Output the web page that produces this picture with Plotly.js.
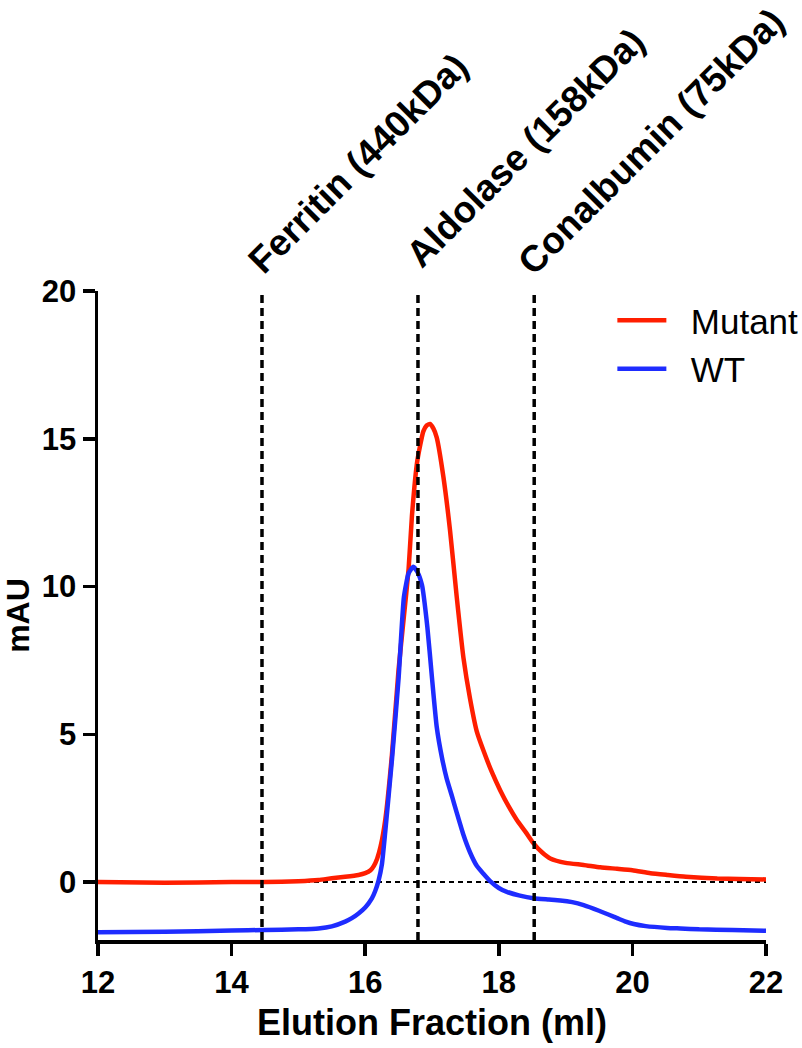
<!DOCTYPE html>
<html>
<head>
<meta charset="utf-8">
<script src="https://cdn.plot.ly/plotly-3.0.1.min.js"></script>
<style>html,body{margin:0;padding:0;background:#fff;}#chart{width:802px;height:1048px;}</style>
</head>
<body>
<div id="chart"></div>
<script>
// Mutant (red) trace
const mutantX = [12, 13, 14, 14.5, 15, 15.3, 15.5, 15.7, 15.9, 16.0, 16.08, 16.13, 16.18, 16.23, 16.3, 16.4, 16.5, 16.58, 16.65, 16.7, 16.78, 16.87, 16.92, 16.97, 17.02, 17.07, 17.17, 17.27, 17.37, 17.47, 17.57, 17.67, 17.77, 17.9, 18.02, 18.15, 18.27, 18.4, 18.52, 18.65, 18.77, 19.0, 19.27, 19.52, 19.77, 20.0, 20.27, 20.52, 20.8, 21.27, 21.6, 22.0];
const mutantY = [0.0, -0.02, 0.0, 0.0, 0.03, 0.07, 0.13, 0.18, 0.24, 0.30, 0.40, 0.55, 0.80, 1.2, 2.1, 4.3, 7.2, 9.0, 10.6, 12.4, 14.25, 15.25, 15.45, 15.5, 15.35, 15.05, 13.72, 11.9, 9.65, 7.6, 6.2, 5.1, 4.45, 3.7, 3.11, 2.55, 2.1, 1.7, 1.31, 1.0, 0.8, 0.65, 0.58, 0.5, 0.45, 0.4, 0.3, 0.24, 0.18, 0.12, 0.1, 0.09];
// WT (blue) trace
const wtX = [12, 13, 14, 14.5, 15, 15.3, 15.5, 15.7, 15.8, 15.9, 16.0, 16.1, 16.15, 16.2, 16.25, 16.3, 16.4, 16.5, 16.58, 16.65, 16.72, 16.78, 16.85, 16.93, 17.0, 17.07, 17.15, 17.22, 17.3, 17.37, 17.47, 17.57, 17.67, 17.77, 17.87, 18.0, 18.12, 18.3, 18.52, 18.75, 18.92, 19.1, 19.27, 19.5, 19.77, 19.9, 20.02, 20.2, 20.52, 20.72, 21.0, 21.5, 22.0];
const wtY = [-1.70, -1.68, -1.64, -1.62, -1.60, -1.57, -1.50, -1.34, -1.22, -1.06, -0.86, -0.55, -0.30, 0.05, 0.6, 1.7, 4.13, 6.9, 9.65, 10.45, 10.67, 10.5, 10.05, 8.64, 6.9, 5.26, 4.2, 3.5, 2.9, 2.35, 1.6, 1.0, 0.55, 0.28, 0.03, -0.2, -0.33, -0.45, -0.55, -0.59, -0.62, -0.68, -0.78, -0.97, -1.22, -1.34, -1.42, -1.49, -1.55, -1.57, -1.6, -1.62, -1.65];
// Molecular weight standards
const markerNames = ["Ferritin (440kDa)", "Aldolase (158kDa)", "Conalbumin (75kDa)"];
const markerX = [14.455, 16.79, 18.53];
const xTicks = [12, 14, 16, 18, 20, 22];
const yTicks = [0, 5, 10, 15, 20];

const FONT = "Liberation Sans, Arial, Helvetica, sans-serif";
const yMin = -1.96, yMax = 20;

const traces = [
  {x: mutantX, y: mutantY, name: "\u00a0\u00a0Mutant", legendgroup: "a", mode: "lines", type: "scatter",
   line: {color: "#ff1e00", width: 4.5, shape: "spline", smoothing: 0.5}},
  {x: wtX, y: wtY, name: "\u00a0\u00a0WT", legendgroup: "b", mode: "lines", type: "scatter",
   line: {color: "#1e2cff", width: 4.5, shape: "spline", smoothing: 0.5}}
];

const shapes = [
  {type: "line", xref: "x", yref: "y", x0: 12, x1: 22, y0: 0, y1: 0, layer: "below",
   line: {color: "#000", width: 2, dash: "5px,4px"}}
];
markerX.forEach(v => shapes.push({type: "line", xref: "x", yref: "y", x0: v, x1: v, y0: yMin, y1: yMax,
  line: {color: "#000", width: 3.5, dash: "8px,5px"}}));

const centerShift = [96, 108, 117];
const centerY = [1.197, 1.221, 1.231];
const annotations = markerNames.map((t, i) => ({
  text: t, xref: "x", yref: "paper", x: markerX[i], y: centerY[i], xshift: centerShift[i],
  xanchor: "center", yanchor: "middle", textangle: -45, showarrow: false,
  font: {family: FONT, size: 37, color: "#000", weight: "bold"}
}));

const layout = {
  width: 802, height: 1048,
  margin: {l: 98, r: 36, t: 291, b: 108, autoexpand: false},
  paper_bgcolor: "#fff", plot_bgcolor: "#fff",
  showlegend: true,
  legend: {x: 0.77, y: 1.0, xanchor: "left", yanchor: "top", bgcolor: "rgba(0,0,0,0)",
    traceorder: "grouped", tracegroupgap: 0,
    font: {family: FONT, size: 35, color: "#000"}, itemwidth: 49},
  xaxis: {range: [12, 22], tickvals: xTicks, showgrid: false, zeroline: false,
    showline: true, linewidth: 3.5, linecolor: "#000", ticks: "outside", ticklen: 12, tickwidth: 3.5, tickcolor: "#000",
    tickfont: {family: FONT, size: 31, color: "#000", weight: "bold"},
    title: {text: "Elution Fraction (ml)", font: {family: FONT, size: 36, color: "#000", weight: "bold"}, standoff: 12}},
  yaxis: {range: [yMin, yMax], tickvals: yTicks, showgrid: false, zeroline: false,
    showline: true, linewidth: 3.5, linecolor: "#000", ticks: "outside", ticklen: 12, tickwidth: 3.5, tickcolor: "#000",
    tickfont: {family: FONT, size: 31, color: "#000", weight: "bold"},
    title: {text: "mAU", font: {family: FONT, size: 32, color: "#000", weight: "bold"}, standoff: 11}},
  shapes: shapes,
  annotations: annotations
};

Plotly.newPlot("chart", traces, layout, {displayModeBar: false, staticPlot: true});
</script>
</body>
</html>
